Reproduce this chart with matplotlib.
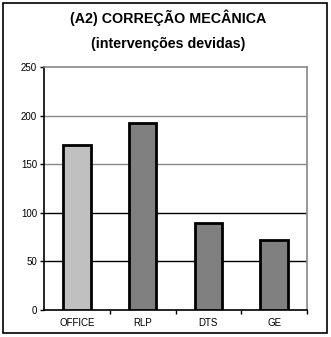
import matplotlib
matplotlib.use("Agg")
import matplotlib.pyplot as plt
from matplotlib.patches import Rectangle

plt.rcParams['font.family'] = ['Liberation Sans', 'DejaVu Sans']

categories = ["OFFICE", "RLP", "DTS", "GE"]
values = [170, 192, 90, 72]
bar_colors = ["#c0c0c0", "#808080", "#808080", "#808080"]
y_ticks = [0, 50, 100, 150, 200, 250]

W, H = 331, 337
fig = plt.figure(figsize=(W / 100, H / 100), dpi=100)
ax = fig.add_axes([44 / W, 1 - 310 / H, (307 - 44) / W, (310 - 67) / H])

# horizontal gridlines
for t in y_ticks[1:-1]:
    ax.axhline(t, color="#888888" if t >= 150 else "black", lw=1, zorder=1)

x = range(len(categories))
ax.bar(x, values, width=0.42, color=bar_colors, edgecolor="black", linewidth=2, zorder=3)

ax.set_xlim(-0.5, len(categories) - 0.5)
ax.set_ylim(0, 250)
ax.set_yticks(y_ticks)
ax.set_yticklabels([str(t) for t in y_ticks], fontsize=7)
ax.set_xticks(list(x))
ax.set_xticklabels(categories, fontsize=7)
ax.tick_params(axis="x", length=0, pad=6)
ax.tick_params(axis="y", length=3, width=1, pad=2)
# category separator ticks on the x axis
ax.set_xticks([i + 0.5 for i in range(len(categories))], minor=True)
ax.tick_params(axis="x", which="minor", length=3, width=1, direction="out")

ax.spines["left"].set_color("black")
ax.spines["bottom"].set_color("black")
ax.spines["top"].set_color("#888888")
ax.spines["right"].set_color("#888888")
for s in ax.spines.values():
    s.set_linewidth(1.2)

fig.text(168 / W, 1 - 18 / H, "(A2) CORREÇÃO MECÂNICA", ha="center", va="center",
         fontsize=10.3, fontweight="bold")
fig.text(168 / W, 1 - 44 / H, "(intervenções devidas)", ha="center", va="center",
         fontsize=10.3, fontweight="bold")

fig.patches.append(Rectangle((3 / W, 1 - 333 / H), 324 / W, 330 / H, transform=fig.transFigure,
                             fill=False, edgecolor="black", linewidth=1.2))

fig.savefig("out.png", dpi=100)
